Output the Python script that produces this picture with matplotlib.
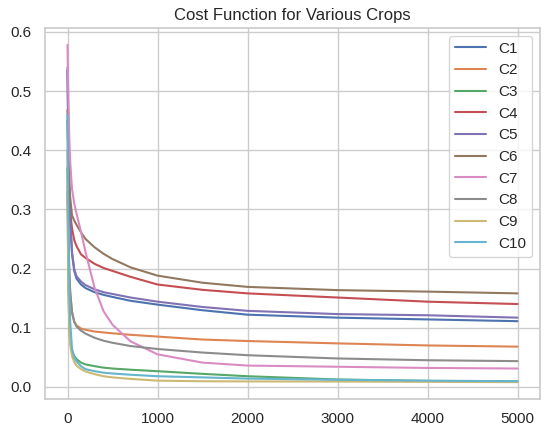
import matplotlib
matplotlib.use("Agg")
import matplotlib.pyplot as plt
import seaborn as sns

sns.set_theme(style="whitegrid")
plt.rcParams["font.family"] = ["Liberation Sans", "DejaVu Sans"]

iterations = [0, 5, 10, 20, 30, 50, 75, 100, 150, 200, 300, 400, 500, 700,
              1000, 1500, 2000, 3000, 4000, 5000]

labels = ["C1", "C2", "C3", "C4", "C5", "C6", "C7", "C8", "C9", "C10"]

c1 = [0.535, 0.47, 0.41, 0.33, 0.28, 0.225, 0.196, 0.183, 0.173, 0.167, 0.160, 0.1555,
      0.152, 0.1455, 0.139, 0.1295, 0.122, 0.117, 0.114, 0.111]
c2 = [0.40, 0.33, 0.27, 0.20, 0.16, 0.125, 0.110, 0.104, 0.0985, 0.0965, 0.0935, 0.092,
      0.0905, 0.088, 0.085, 0.080, 0.0775, 0.0735, 0.070, 0.068]
c3 = [0.37, 0.25, 0.17, 0.10, 0.075, 0.060, 0.052, 0.047, 0.041, 0.038, 0.035, 0.0325,
      0.031, 0.029, 0.0265, 0.022, 0.018, 0.0125, 0.010, 0.0095]
c4 = [0.45, 0.40, 0.365, 0.32, 0.295, 0.268, 0.248, 0.238, 0.224, 0.218, 0.208, 0.201,
      0.196, 0.186, 0.173, 0.164, 0.158, 0.151, 0.144, 0.140]
c5 = [0.54, 0.475, 0.415, 0.335, 0.285, 0.228, 0.199, 0.187, 0.178, 0.172, 0.165, 0.160,
      0.157, 0.151, 0.144, 0.135, 0.1285, 0.123, 0.121, 0.117]
c6 = [0.468, 0.42, 0.385, 0.345, 0.32, 0.29, 0.281, 0.274, 0.261, 0.250, 0.236, 0.225,
      0.216, 0.202, 0.188, 0.176, 0.169, 0.1635, 0.161, 0.158]
c7 = [0.578, 0.53, 0.49, 0.42, 0.38, 0.335, 0.31, 0.293, 0.262, 0.228, 0.168, 0.128,
      0.105, 0.077, 0.055, 0.041, 0.036, 0.034, 0.032, 0.031]
c8 = [0.33, 0.28, 0.24, 0.19, 0.16, 0.127, 0.110, 0.102, 0.095, 0.090, 0.083, 0.078,
      0.0745, 0.069, 0.064, 0.058, 0.0535, 0.048, 0.045, 0.0435]
c9 = [0.34, 0.24, 0.17, 0.10, 0.072, 0.052, 0.042, 0.036, 0.030, 0.026, 0.0215, 0.018,
      0.016, 0.0135, 0.0105, 0.0095, 0.0092, 0.009, 0.0085, 0.008]
c10 = [0.46, 0.35, 0.27, 0.17, 0.11, 0.065, 0.050, 0.043, 0.035, 0.030, 0.0265, 0.024,
       0.0226, 0.0205, 0.018, 0.016, 0.014, 0.012, 0.0105, 0.0095]

series = [c1, c2, c3, c4, c5, c6, c7, c8, c9, c10]

fig = plt.figure(figsize=(5.5, 4.37), dpi=100)
ax = fig.add_axes([45 / 550, 38 / 437, 495 / 550, 371 / 437])
for lab, vals in zip(labels, series):
    ax.plot(iterations, vals, label=lab, linewidth=1.5)

ax.tick_params(labelsize=11)
ax.set_title("Cost Function for Various Crops", fontsize=12)
ax.legend(loc="upper right", fontsize=11)
fig.savefig("out.png", dpi=100)
